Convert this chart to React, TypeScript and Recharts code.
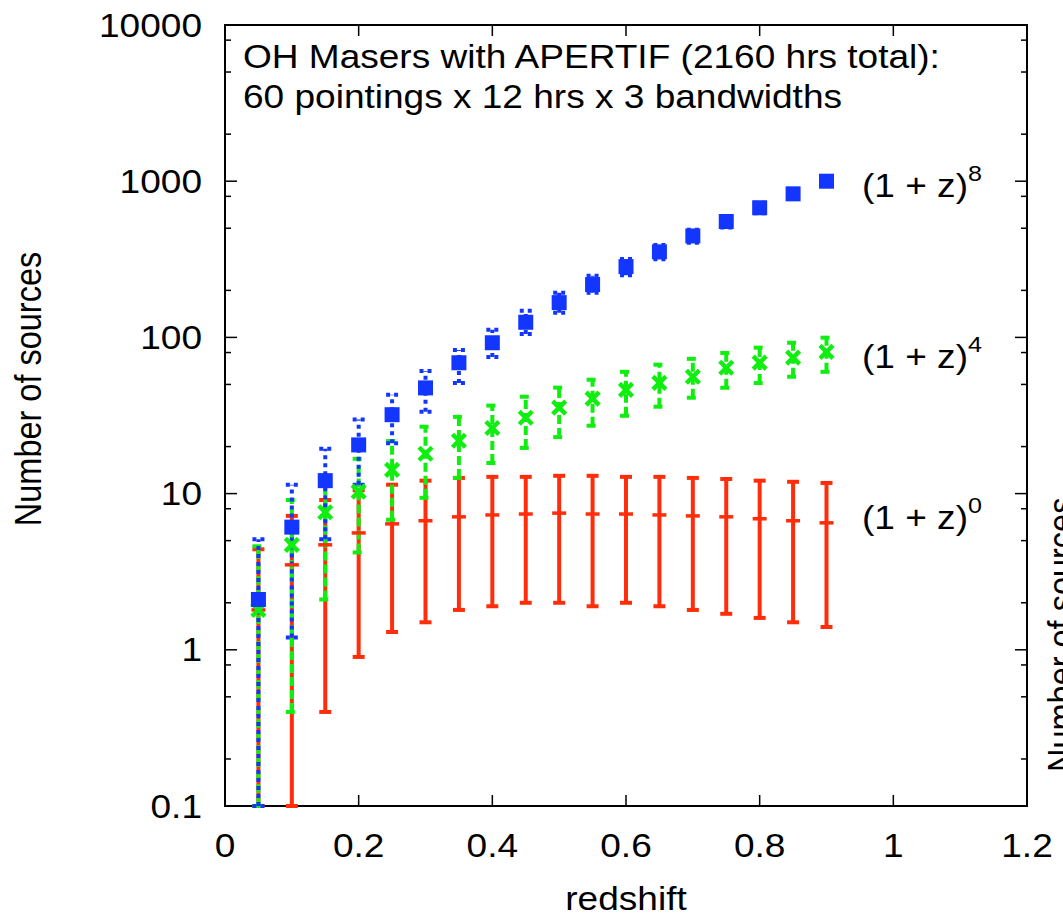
import React from "react";
import { ScatterChart, Scatter, XAxis, YAxis, ErrorBar, ReferenceArea } from "recharts";

// redshift bins
const redshift = [0.05, 0.1, 0.15, 0.2, 0.25, 0.3, 0.35, 0.4, 0.45, 0.5, 0.55, 0.6, 0.65, 0.7, 0.75, 0.8, 0.85, 0.9];

// (1 + z)^0
const flatMid = [1.8, 3.5, 4.7, 5.6, 6.4, 6.7, 7.1, 7.3, 7.4, 7.5, 7.4, 7.4, 7.3, 7.2, 7.1, 6.9, 6.7, 6.5];
const flatLow = [0.1, 0.1, 0.4, 0.9, 1.3, 1.5, 1.8, 1.9, 2.0, 2.0, 1.9, 2.0, 1.9, 1.8, 1.7, 1.6, 1.5, 1.4];
const flatHigh = [4.4, 7.2, 9.1, 10.5, 11.4, 12.1, 12.6, 12.8, 12.8, 13.0, 13.0, 12.8, 12.8, 12.6, 12.4, 12.1, 11.9, 11.7];

// (1 + z)^4
const z4Mid = [1.8, 4.7, 7.6, 10.3, 14.2, 18.0, 21.8, 26.3, 30.6, 35.5, 40.5, 46.1, 51.2, 56.0, 63.9, 68.9, 74.3, 80.7];
const z4Low = [0.1, 0.4, 2.1, 4.2, 6.8, 9.4, 12.6, 15.7, 19.6, 23.0, 27.2, 31.5, 36.0, 41.1, 47.6, 51.0, 56.0, 60.2];
const z4High = [4.6, 9.1, 13.1, 16.7, 21.7, 26.8, 31.0, 36.6, 41.7, 47.7, 53.6, 60.2, 66.9, 72.9, 79.5, 86.0, 92.4, 99.6];

// (1 + z)^8
const z8Mid = [2.1, 6.1, 12.1, 20.5, 32, 47.5, 68.8, 92.4, 125, 167, 218, 284, 353, 446, 552, 676, 830, 1000];
const z8Low = [0.1, 1.2, 5.1, 11.4, 21, 33.4, 51, 75, 105, 144, 193, 250, 316, 404, 505, 624, 772, 937];
const z8High = [5.1, 11.4, 19.4, 29.8, 43, 61, 83, 112, 148, 193, 248, 318, 391, 488, 599, 728, 888, 1063];

const xTicks = [0, 0.2, 0.4, 0.6, 0.8, 1, 1.2];
const yMajor = [0.1, 1, 10, 100, 1000, 10000];
const yMajorLabels = ["0.1", "1", "10", "100", "1000", "10000"];
const yMinor = [0.2, 0.5, 0.8, 2, 5, 8, 20, 50, 80, 200, 500, 800, 2000, 5000, 8000];

const W = 1063;
const H = 916;
const L = 225;
const R = 1027;
const T = 25;
const B = 806;
const FONT = '"Liberation Sans", Arial, Helvetica, sans-serif';
const FS = 32.5;
const SX = 1.14;

const RED = "#ff2d0a";
const GREEN = "#10ee10";
const BLUE = "#1236ff";

const toPoints = (mid: number[], low: number[], high: number[]) =>
  redshift.map((z, i) => ({ z, n: mid[i], err: [mid[i] - low[i], high[i] - mid[i]] }));

const flatData = toPoints(flatMid, flatLow, flatHigh);
const z4Data = toPoints(z4Mid, z4Low, z4High);
const z8Data = toPoints(z8Mid, z8Low, z8High);

function Stretch({ x, y, anchor, children, rotate }: any) {
  return (
    <g transform={`translate(${x},${y}) scale(${SX},1)${rotate ? ` rotate(${rotate})` : ""}`}>
      <text x={0} y={0} textAnchor={anchor} fontFamily={FONT} fontSize={FS} fill="#000">
        {children}
      </text>
    </g>
  );
}

function XTick({ x, payload }: any) {
  return (
    <g>
      <line x1={x} x2={x} y1={B} y2={B - 11} stroke="#000" strokeWidth={1.5} />
      <line x1={x} x2={x} y1={T} y2={T + 11} stroke="#000" strokeWidth={1.5} />
      <Stretch x={x} y={857} anchor="middle">{String(payload.value)}</Stretch>
    </g>
  );
}

function YTick({ y, payload }: any) {
  const idx = yMajor.findIndex((v) => Math.abs(v - payload.value) < 1e-9);
  const len = idx >= 0 ? 12 : 6;
  return (
    <g>
      <line x1={L} x2={L + len} y1={y} y2={y} stroke="#000" strokeWidth={1.5} />
      <line x1={R} x2={R - len} y1={y} y2={y} stroke="#000" strokeWidth={1.5} />
      {idx >= 0 && (
        <Stretch x={202} y={y + 11.5} anchor="end">{yMajorLabels[idx]}</Stretch>
      )}
    </g>
  );
}

const PlusMark = ({ cx, cy }: any) => (
  <line x1={cx - 7} x2={cx + 7} y1={cy} y2={cy} stroke={RED} strokeWidth={3.5} />
);

const CrossMark = ({ cx, cy }: any) => (
  <g stroke={GREEN} strokeWidth={4.5}>
    <line x1={cx - 6.5} y1={cy - 6.5} x2={cx + 6.5} y2={cy + 6.5} />
    <line x1={cx - 6.5} y1={cy + 6.5} x2={cx + 6.5} y2={cy - 6.5} />
  </g>
);

const SquareMark = ({ cx, cy }: any) => (
  <rect x={cx - 7.5} y={cy - 7.5} width={15} height={15} fill={BLUE} />
);

export default function App() {
  return (
    <div style={{ position: "absolute", left: 0, top: 0, width: W, height: H, background: "#fff" }}>
      <ScatterChart
        width={W}
        height={H}
        margin={{ top: T, right: W - R, bottom: 0, left: 0 }}
      >
        <XAxis
          type="number"
          dataKey="z"
          domain={[0, 1.2]}
          ticks={xTicks}
          interval={0}
          height={H - B}
          axisLine={false}
          tickLine={false}
          tick={<XTick />}
          allowDataOverflow
        />
        <YAxis
          type="number"
          dataKey="n"
          scale="log"
          domain={[0.1, 10000]}
          ticks={[...yMajor, ...yMinor]}
          interval={0}
          width={L}
          axisLine={false}
          tickLine={false}
          tick={<YTick />}
          allowDataOverflow
        />
        <ReferenceArea
          x1={0}
          x2={1.2}
          y1={0.1}
          y2={10000}
          fill="none"
          stroke="#000"
          strokeWidth={2}
          ifOverflow="visible"
        />
        <Scatter data={flatData} shape={<PlusMark />} isAnimationActive={false}>
          <ErrorBar dataKey="err" direction="y" width={6} stroke={RED} strokeWidth={4} isAnimationActive={false} />
        </Scatter>
        <Scatter data={z4Data} shape={<CrossMark />} isAnimationActive={false}>
          <ErrorBar
            dataKey="err"
            direction="y"
            width={6}
            stroke={GREEN}
            strokeWidth={4}
            strokeDasharray="9 4"
            isAnimationActive={false}
          />
        </Scatter>
        <Scatter data={z8Data} shape={<SquareMark />} isAnimationActive={false}>
          <ErrorBar
            dataKey="err"
            direction="y"
            width={6}
            stroke={BLUE}
            strokeWidth={4}
            strokeDasharray="4 4"
            isAnimationActive={false}
          />
        </Scatter>
      </ScatterChart>
      <svg
        width={W}
        height={H}
        style={{ position: "absolute", left: 0, top: 0, pointerEvents: "none" }}
      >
        <Stretch x={243} y={68} anchor="start">OH Masers with APERTIF (2160 hrs total):</Stretch>
        <Stretch x={243} y={108} anchor="start">60 pointings x 12 hrs x 3 bandwidths</Stretch>
        <Stretch x={626} y={910} anchor="middle">redshift</Stretch>
        <Stretch x={41} y={389} anchor="middle" rotate={-90}>Number of sources</Stretch>
        <Stretch x={1074} y={772} anchor="start" rotate={-90}>Number of sources</Stretch>
        {[
          { y: 197, p: "8" },
          { y: 368, p: "4" },
          { y: 529, p: "0" },
        ].map((lb) => (
          <Stretch key={lb.p} x={862} y={lb.y} anchor="start">
            (1 + z)
            <tspan fontSize={22} dy={-16}>{lb.p}</tspan>
          </Stretch>
        ))}
      </svg>
    </div>
  );
}
